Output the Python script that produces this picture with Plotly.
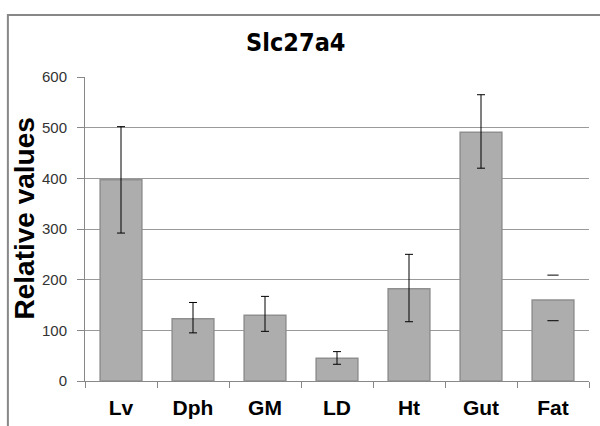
import plotly.graph_objects as go

categories = ["Lv", "Dph", "GM", "LD", "Ht", "Gut", "Fat"]
values = [397, 123, 130, 45, 182, 491, 160]
err_upper = [502, 155, 167, 58, 250, 565, 209]
err_lower = [292, 95, 98, 33, 117, 420, 119]
# Fat's error bar shows only caps (no stem)
stem_cats = categories[:6]
cap_only_cat = categories[6]

fig = go.Figure()
fig.add_trace(go.Bar(
    x=categories, y=values,
    marker=dict(color="#ADADAD", line=dict(color="#8F8F8F", width=1.5)),
    showlegend=False, hoverinfo="skip",
))
fig.add_trace(go.Scatter(
    x=stem_cats, y=values[:6], mode="markers",
    marker=dict(size=0.1, color="rgba(0,0,0,0)"),
    error_y=dict(type="data", symmetric=False,
                 array=[u - v for u, v in zip(err_upper[:6], values[:6])],
                 arrayminus=[v - l for v, l in zip(values[:6], err_lower[:6])],
                 color="black", thickness=1, width=4),
    showlegend=False, hoverinfo="skip",
))
fig.add_trace(go.Scatter(
    x=[cap_only_cat, cap_only_cat], y=[err_upper[6], err_lower[6]], mode="markers",
    marker=dict(symbol="line-ew", size=8, line=dict(color="black", width=1)),
    showlegend=False, hoverinfo="skip",
))

fig.update_layout(
    width=600, height=426,
    margin=dict(l=85, r=11, t=77, b=45, autoexpand=False),
    paper_bgcolor="white", plot_bgcolor="white",
    bargap=0.42,
    title=dict(text="<b>Slc27a4</b>", x=0.493, xanchor="center", y=0.9, yanchor="middle",
               font=dict(family="Liberation Sans Narrow, DejaVu Sans Condensed, Arial", size=25, color="black")),
    xaxis=dict(
        automargin=False,
        tickson="boundaries", ticks="outside", ticklen=6, tickcolor="#888888",
        showline=True, linecolor="#888888", linewidth=1,
        tickfont=dict(family="Liberation Sans, Arial", size=21, color="black"),
        tickprefix="<b>", ticksuffix="</b>",
        showgrid=False, fixedrange=True,
    ),
    yaxis=dict(
        automargin=False,
        range=[0, 600], dtick=100, tickmode="linear",
        ticks="outside", ticklen=7, tickcolor="#888888",
        showline=True, linecolor="#888888", linewidth=1,
        gridcolor="#9A9A9A", gridwidth=1,
        zeroline=False,
        tickfont=dict(family="Liberation Sans, Arial", size=15, color="#333333"),
        ticklabelstandoff=7,
    ),
    annotations=[dict(text="<b>Relative values</b>", textangle=-90, showarrow=False,
                      xref="paper", yref="paper", x=-0.12, y=0.533,
                      xanchor="center", yanchor="middle",
                      font=dict(family="Liberation Sans, Arial", size=28, color="black"))],
    shapes=[dict(type="rect", xref="paper", yref="paper",
                 x0=-0.153, x1=1.2, y0=-0.3, y1=1.204,
                 line=dict(color="#888888", width=2), fillcolor="rgba(0,0,0,0)", layer="below")],
)
fig.update_xaxes(ticklabelstandoff=8)

fig.write_html("out.html", config={"displayModeBar": False},
               post_script="document.body.style.margin='0';document.body.style.overflow='hidden';")
